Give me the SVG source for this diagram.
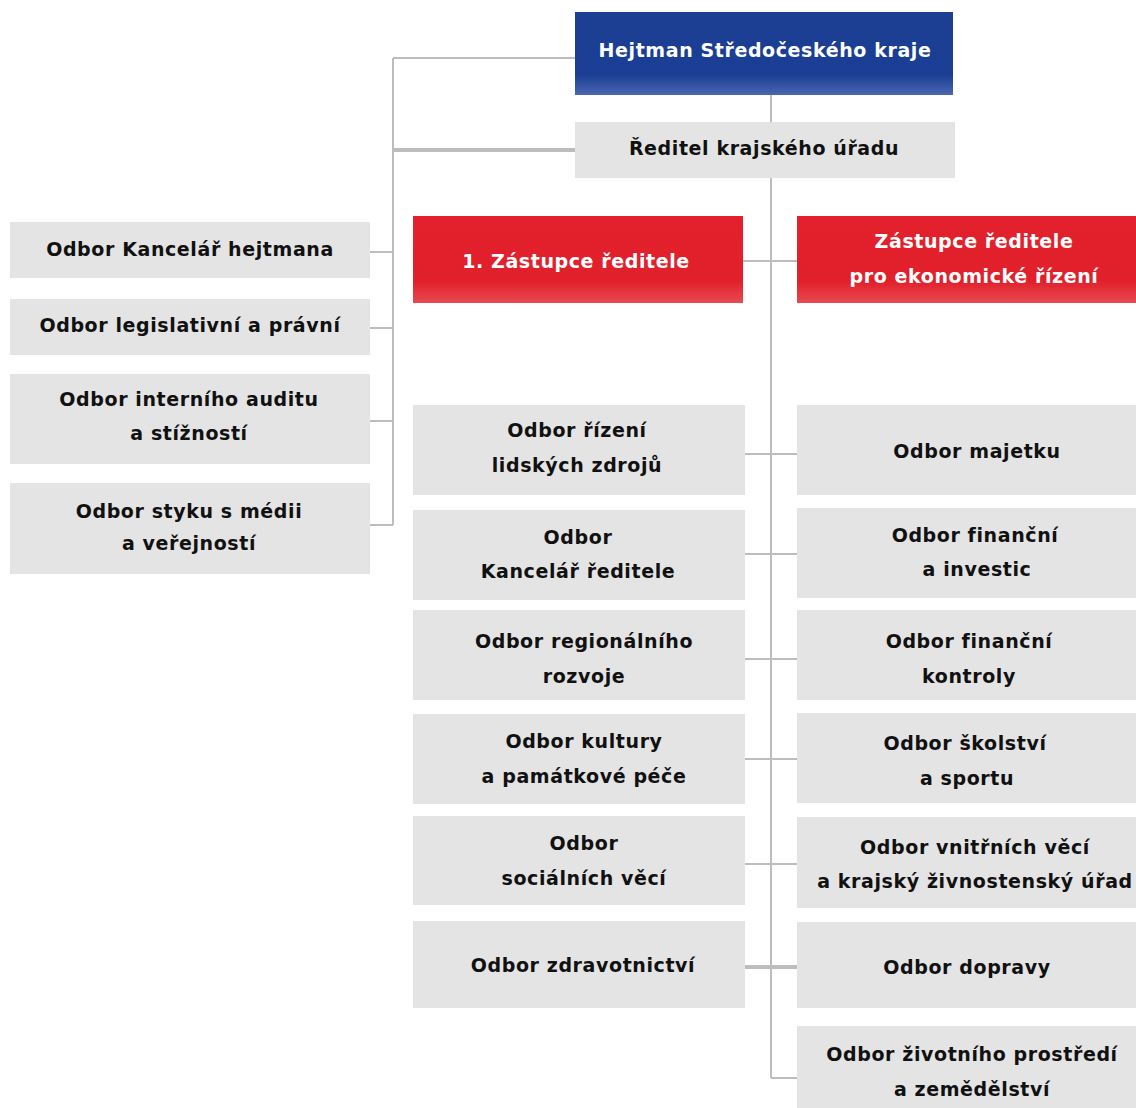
<svg xmlns="http://www.w3.org/2000/svg" width="1136" height="1108" viewBox="0 0 1136 1108">
<defs>
<linearGradient id="gBlue" x1="0" y1="0" x2="0" y2="1">
<stop offset="0" stop-color="#1c3f93"/><stop offset="0.75" stop-color="#1a3e94"/><stop offset="1" stop-color="#4a66ad"/>
</linearGradient>
<linearGradient id="gRed" x1="0" y1="0" x2="0" y2="1">
<stop offset="0" stop-color="#e2212d"/><stop offset="0.75" stop-color="#e2202b"/><stop offset="1" stop-color="#e84a53"/>
</linearGradient>
</defs>
<style>
.box{fill:#e4e4e4}
.t{font-family:"DejaVu Sans","Liberation Sans",sans-serif;font-weight:bold;font-size:19px;letter-spacing:0.6px;fill:#111;text-anchor:middle}
.w{fill:#fff}
.ln{stroke:#bdbdbd;stroke-width:2;fill:none}
.thk{stroke-width:4}
</style>
<rect width="1136" height="1108" fill="#fff"/>
<g id="connectors">
<path class="ln" d="M771 95V1078M393 58H575M393 58V525M370 252H393M370 328H393M370 421H393M370 525H393M743 261H797M745 454H797M745 554H797M745 659H797M745 759H797M745 864H797M771 1078H797"/>
<path class="ln thk" d="M393 150H575M745 967H797"/>
</g>
<g id="hejtman"><rect x="575" y="12" width="378" height="83" fill="url(#gBlue)"/><text class="t w" x="765" y="57">Hejtman Středočeského kraje</text></g>
<g id="reditel"><rect class="box" x="575" y="122" width="380" height="56"/><text class="t" x="764" y="155">Ředitel krajského úřadu</text></g>
<g id="zastupce1"><rect x="413" y="216" width="330" height="87" fill="url(#gRed)"/><text class="t w" x="576" y="268">1. Zástupce ředitele</text></g>
<g id="zastupce2"><rect x="797" y="216" width="339" height="87" fill="url(#gRed)"/><text class="t w" x="974" y="248">Zástupce ředitele</text><text class="t w" x="974" y="283">pro ekonomické řízení</text></g>
<g id="kancelar-hejtmana"><rect class="box" x="10" y="222" width="360" height="56"/><text class="t" x="190" y="256">Odbor Kancelář hejtmana</text></g>
<g id="legislativni"><rect class="box" x="10" y="299" width="360" height="56"/><text class="t" x="190" y="332">Odbor legislativní a právní</text></g>
<g id="audit"><rect class="box" x="10" y="374" width="360" height="90"/><text class="t" x="189" y="406">Odbor interního auditu</text><text class="t" x="189" y="440">a stížností</text></g>
<g id="media"><rect class="box" x="10" y="483" width="360" height="91"/><text class="t" x="189" y="518">Odbor styku s médii</text><text class="t" x="189" y="550">a veřejností</text></g>
<g id="lidske-zdroje"><rect class="box" x="413" y="405" width="332" height="90"/><text class="t" x="577" y="437">Odbor řízení</text><text class="t" x="577" y="472">lidských zdrojů</text></g>
<g id="kancelar-reditele"><rect class="box" x="413" y="510" width="332" height="90"/><text class="t" x="578" y="544">Odbor</text><text class="t" x="578" y="578">Kancelář ředitele</text></g>
<g id="regionalni"><rect class="box" x="413" y="610" width="332" height="90"/><text class="t" x="584" y="648">Odbor regionálního</text><text class="t" x="584" y="683">rozvoje</text></g>
<g id="kultura"><rect class="box" x="413" y="714" width="332" height="90"/><text class="t" x="584" y="748">Odbor kultury</text><text class="t" x="584" y="783">a památkové péče</text></g>
<g id="socialni"><rect class="box" x="413" y="816" width="332" height="89"/><text class="t" x="584" y="850">Odbor</text><text class="t" x="584" y="885">sociálních věcí</text></g>
<g id="zdravotnictvi"><rect class="box" x="413" y="921" width="332" height="87"/><text class="t" x="583" y="972">Odbor zdravotnictví</text></g>
<g id="majetek"><rect class="box" x="797" y="405" width="339" height="90"/><text class="t" x="977" y="458">Odbor majetku</text></g>
<g id="financni-investic"><rect class="box" x="797" y="508" width="339" height="90"/><text class="t" x="975" y="542">Odbor finanční</text><text class="t" x="977" y="576">a investic</text></g>
<g id="financni-kontroly"><rect class="box" x="797" y="610" width="339" height="90"/><text class="t" x="969" y="648">Odbor finanční</text><text class="t" x="969" y="683">kontroly</text></g>
<g id="skolstvi"><rect class="box" x="797" y="713" width="339" height="90"/><text class="t" x="965" y="750">Odbor školství</text><text class="t" x="967" y="785">a sportu</text></g>
<g id="vnitrni"><rect class="box" x="797" y="817" width="339" height="91"/><text class="t" x="975" y="854">Odbor vnitřních věcí</text><text class="t" x="975" y="888">a krajský živnostenský úřad</text></g>
<g id="doprava"><rect class="box" x="797" y="922" width="339" height="86"/><text class="t" x="967" y="974">Odbor dopravy</text></g>
<g id="zivotni-prostredi"><rect class="box" x="797" y="1026" width="339" height="82"/><text class="t" x="972" y="1061">Odbor životního prostředí</text><text class="t" x="972" y="1096">a zemědělství</text></g>
</svg>
